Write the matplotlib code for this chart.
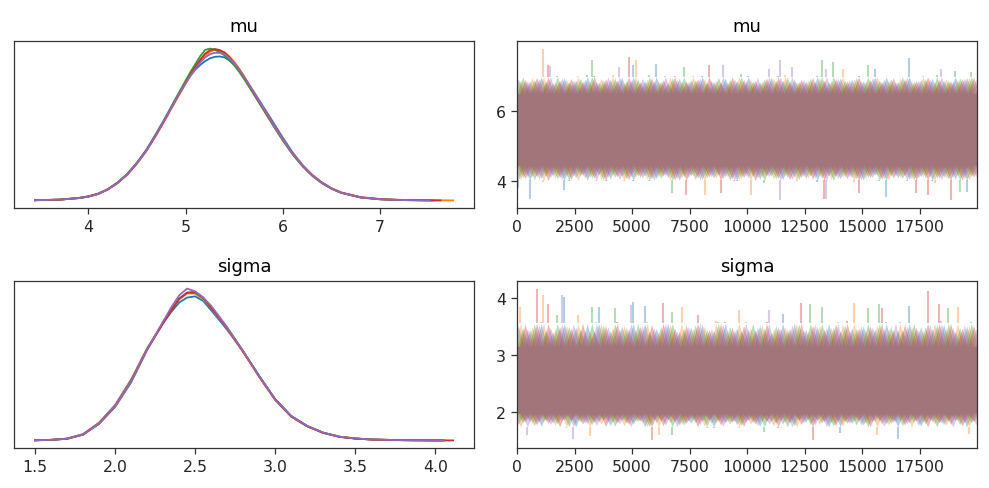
import numpy as np
import matplotlib.pyplot as plt

chain_colors = ["C0", "C1", "C2", "C3", "C4"]

# ---- KDE curves (density) ----
mu_grid = [3.45, 3.7, 3.9, 4.0, 4.1, 4.2, 4.3, 4.4, 4.5, 4.6, 4.7, 4.8, 4.9, 5.0, 5.05, 5.1, 5.15, 5.2, 5.25,
           5.3, 5.35, 5.4, 5.45, 5.5, 5.55, 5.6, 5.7, 5.8, 5.9, 6.0, 6.1, 6.2, 6.3, 6.4, 6.5, 6.6, 6.8, 7.0,
           7.2, 7.5]
mu_kde_end = [7.55, 7.75, 7.52, 7.62, 7.51]
mu_kde = [
    [.002, .005, .014, .023, .037, .061, .096, .142, .203, .275, .362, .452, .545, .632, .668, .700, .725, .745,
     .760, .768, .770, .765, .748, .725, .695, .660, .582, .500, .418, .335, .257, .191, .138, .097, .066, .043,
     .018, .008, .004, .002],
    [.002, .005, .014, .022, .037, .060, .094, .139, .198, .268, .352, .442, .535, .625, .668, .708, .745, .775,
     .795, .805, .803, .792, .770, .740, .705, .665, .580, .494, .408, .328, .252, .189, .137, .097, .066, .043,
     .018, .008, .004, .002],
    [.002, .005, .013, .021, .035, .061, .097, .143, .203, .272, .358, .450, .548, .642, .688, .730, .772, .805,
     .812, .805, .793, .775, .750, .722, .688, .650, .568, .484, .400, .320, .246, .184, .133, .093, .063, .041,
     .016, .007, .003, .001],
    [.002, .005, .014, .022, .036, .060, .095, .140, .200, .270, .355, .445, .540, .630, .675, .715, .753, .785,
     .803, .810, .804, .790, .765, .735, .700, .660, .575, .490, .405, .325, .250, .187, .135, .095, .064, .042,
     .017, .007, .003, .001],
    [.002, .005, .013, .021, .035, .059, .094, .140, .200, .270, .356, .447, .540, .628, .668, .705, .738, .765,
     .782, .790, .789, .782, .760, .733, .699, .662, .578, .492, .406, .326, .251, .188, .136, .095, .064, .042,
     .017, .007, .003, .001],
]

sigma_grid = [1.5, 1.6, 1.7, 1.8, 1.9, 2.0, 2.1, 2.2, 2.3, 2.35, 2.4, 2.45, 2.5, 2.55, 2.6, 2.65, 2.7, 2.8,
              2.9, 3.0, 3.1, 3.2, 3.3, 3.4, 3.5, 3.6, 3.7, 3.8, 4.0]
sigma_kde_end = [4.04, 4.06, 4.05, 4.11, 4.05]
sigma_kde = [
    [.002, .006, .017, .057, .160, .318, .545, .825, 1.050, 1.150, 1.235, 1.280, 1.290, 1.250, 1.165, 1.080,
     .990, .795, .578, .370, .220, .130, .070, .034, .018, .009, .006, .003, .001],
    [.002, .006, .017, .056, .155, .312, .538, .822, 1.058, 1.165, 1.262, 1.318, 1.315, 1.265, 1.185, 1.095,
     1.000, .790, .568, .360, .212, .126, .068, .033, .018, .009, .006, .003, .001],
    [.002, .006, .016, .054, .150, .300, .520, .810, 1.060, 1.170, 1.270, 1.322, 1.322, 1.275, 1.195, 1.105,
     1.012, .800, .575, .366, .217, .128, .069, .034, .018, .009, .006, .003, .001],
    [.002, .006, .015, .052, .150, .305, .530, .815, 1.050, 1.163, 1.268, 1.325, 1.330, 1.280, 1.190, 1.100,
     1.005, .795, .572, .365, .215, .127, .068, .033, .017, .009, .005, .003, .001],
    [.002, .006, .016, .053, .150, .305, .528, .815, 1.065, 1.190, 1.300, 1.360, 1.335, 1.280, 1.205, 1.110,
     1.010, .796, .574, .366, .218, .130, .071, .035, .019, .010, .006, .003, .001],
]

# ---- traces: 20000 draws, summarised per 500-draw window (dense core + per-chain extremes) ----
n_draws = 20000
window = 500
mu_core = (4.45, 6.5)
sigma_core = (1.98, 3.15)
mu_cap = (4.02, 6.98)
sigma_cap = (1.74, 3.56)

mu_hi = [
    [6.92, 6.85, 6.98, 6.80, 6.95, 6.88, 7.02, 6.83, 6.90, 6.97, 7.30, 6.86, 7.35, 6.81, 6.94, 6.89, 6.99, 6.84, 6.93, 6.87,
     7.01, 6.82, 6.96, 6.88, 6.91, 6.85, 7.00, 6.83, 6.94, 6.90, 6.86, 7.20, 6.97, 6.84, 7.50, 6.89, 6.93, 6.87, 7.15, 6.95],
    [6.88, 6.95, 7.78, 6.84, 6.91, 6.99, 6.86, 6.93, 7.03, 6.82, 7.45, 6.90, 6.87, 6.96, 6.85, 7.00, 6.92, 6.88, 6.83, 6.97,
     6.90, 6.86, 6.94, 7.04, 6.84, 6.89, 6.95, 6.87, 7.20, 6.91, 6.85, 6.98, 6.88, 6.93, 6.86, 7.01, 6.84, 6.92, 6.89, 6.96],
    [6.97, 6.90, 6.86, 6.99, 6.84, 6.93, 7.45, 6.88, 6.95, 6.87, 6.91, 7.02, 6.85, 6.94, 7.25, 6.89, 6.83, 6.96, 6.90, 7.05,
     6.86, 6.92, 6.88, 6.97, 6.84, 6.93, 7.45, 7.40, 6.87, 6.95, 7.30, 6.89, 6.91, 6.98, 6.85, 6.92, 7.03, 6.88, 6.94, 7.10],
    [6.90, 6.96, 7.30, 6.87, 6.93, 6.85, 6.99, 6.91, 6.88, 7.55, 6.84, 6.95, 6.89, 7.01, 6.86, 6.92, 7.30, 6.83, 6.97, 6.90,
     6.87, 6.94, 6.99, 6.85, 6.91, 6.96, 6.88, 6.93, 6.86, 7.00, 6.89, 6.84, 6.95, 6.92, 6.87, 6.98, 6.90, 6.86, 6.93, 6.97],
    [6.86, 6.92, 7.29, 6.95, 6.88, 6.91, 6.84, 6.97, 7.25, 6.89, 6.93, 6.86, 7.00, 6.90, 6.85, 6.94, 6.88, 7.30, 6.92, 6.87,
     6.96, 7.20, 7.45, 7.25, 6.90, 6.85, 7.20, 6.93, 6.89, 6.87, 6.95, 6.91, 6.84, 6.98, 6.88, 6.92, 7.20, 6.86, 6.94, 6.90],
]
mu_lo = [
    [3.80, 3.50, 4.08, 4.15, 3.75, 4.10, 4.03, 4.18, 4.06, 4.12, 4.00, 4.14, 4.07, 4.11, 4.02, 4.16, 4.05, 4.09, 4.13, 4.01,
     4.10, 4.06, 4.15, 4.04, 4.12, 4.08, 3.98, 4.14, 4.07, 4.10, 4.03, 4.17, 3.55, 4.09, 4.05, 4.13, 4.01, 4.11, 4.06, 3.70],
    [4.05, 4.12, 3.98, 4.09, 4.14, 4.02, 4.10, 4.06, 4.16, 4.00, 4.11, 4.07, 4.13, 4.03, 4.09, 4.15, 3.60, 4.08, 4.12, 4.04,
     3.60, 4.10, 4.06, 4.14, 4.01, 4.09, 4.13, 4.05, 4.11, 3.97, 4.08, 4.15, 4.03, 4.10, 4.06, 4.12, 3.95, 4.09, 4.14, 4.04],
    [4.10, 4.04, 4.13, 4.07, 4.01, 4.15, 4.09, 4.03, 4.11, 4.06, 4.14, 4.00, 4.08, 3.65, 4.12, 4.05, 4.10, 4.16, 4.02, 4.09,
     4.13, 3.96, 4.07, 4.11, 4.04, 4.14, 4.08, 4.02, 4.12, 4.06, 4.10, 4.01, 4.15, 4.07, 4.03, 4.11, 4.09, 4.05, 3.70, 4.12],
    [4.07, 4.13, 4.02, 4.10, 4.05, 4.16, 4.08, 3.99, 4.12, 4.04, 4.11, 4.07, 4.14, 4.03, 3.60, 4.09, 4.12, 3.65, 4.06, 4.10,
     4.02, 4.15, 4.08, 4.04, 4.11, 4.06, 3.50, 4.13, 4.07, 3.65, 4.10, 4.05, 4.09, 4.14, 3.65, 3.60, 4.08, 3.45, 4.03, 4.11],
    [4.12, 4.06, 4.10, 4.03, 4.14, 4.08, 4.01, 4.11, 4.05, 4.13, 4.09, 4.02, 4.15, 4.07, 4.10, 4.04, 4.12, 4.06, 4.00, 4.14,
     4.08, 4.11, 3.45, 4.05, 4.13, 4.09, 3.50, 4.07, 4.12, 4.03, 4.10, 4.06, 4.14, 4.01, 4.09, 4.12, 4.05, 4.11, 4.07, 4.13],
]
sigma_hi = [
    [3.52, 3.45, 3.58, 3.41, 4.02, 3.49, 3.55, 3.85, 3.43, 3.51, 3.93, 3.87, 3.47, 3.56, 3.42, 3.50, 3.54, 3.44, 3.59, 3.48,
     3.46, 3.53, 3.40, 3.72, 3.57, 3.45, 3.50, 3.55, 3.43, 3.48, 3.52, 3.46, 3.58, 3.44, 3.86, 3.50, 3.47, 3.54, 3.42, 3.51],
    [3.85, 3.50, 4.05, 3.46, 3.53, 3.70, 3.44, 3.57, 3.49, 3.52, 3.45, 3.58, 3.42, 3.55, 3.85, 3.47, 3.51, 3.60, 3.44, 3.80,
     3.48, 3.54, 3.46, 3.50, 3.57, 3.43, 3.52, 3.49, 3.55, 3.92, 3.45, 3.53, 3.47, 3.58, 3.50, 3.44, 3.56, 3.48, 3.85, 3.52],
    [3.48, 3.55, 3.44, 3.70, 3.51, 3.46, 3.85, 3.53, 3.82, 3.49, 3.57, 3.43, 3.50, 3.75, 3.47, 3.54, 3.45, 3.58, 3.50, 3.44,
     3.56, 3.48, 3.52, 3.46, 3.55, 3.90, 3.85, 3.49, 3.53, 3.47, 3.82, 3.90, 3.51, 3.45, 3.57, 3.50, 3.54, 3.82, 3.48, 3.58],
    [3.55, 4.17, 3.90, 3.50, 3.47, 3.56, 3.43, 3.52, 3.58, 3.46, 3.51, 3.54, 3.92, 3.48, 3.53, 3.70, 3.45, 3.57, 3.49, 3.52,
     3.44, 3.58, 3.50, 3.47, 3.92, 3.53, 3.46, 3.55, 3.60, 3.48, 3.51, 3.82, 3.45, 3.54, 3.49, 4.12, 3.90, 3.56, 3.47, 3.53],
    [3.47, 3.53, 3.49, 4.05, 3.55, 3.44, 3.58, 3.50, 3.46, 3.88, 3.52, 3.48, 3.56, 3.43, 3.51, 3.57, 3.47, 3.54, 3.45, 3.59,
     3.50, 3.80, 3.48, 3.53, 3.46, 3.55, 3.49, 3.58, 3.44, 3.52, 3.50, 3.47, 3.56, 3.51, 3.45, 3.54, 3.60, 3.49, 3.53, 3.46],
]
sigma_lo = [
    [1.78, 1.84, 1.75, 1.81, 1.86, 1.73, 1.80, 1.83, 1.76, 1.85, 1.79, 1.74, 1.82, 1.87, 1.77, 1.80, 1.84, 1.72, 1.81, 1.78,
     1.85, 1.75, 1.83, 1.79, 1.76, 1.82, 1.86, 1.74, 1.63, 1.80, 1.77, 1.84, 1.79, 1.52, 1.81, 1.75, 1.83, 1.78, 1.85, 1.73],
    [1.74, 1.80, 1.83, 1.77, 1.72, 1.85, 1.58, 1.79, 1.82, 1.76, 1.84, 1.73, 1.60, 1.81, 1.78, 1.86, 1.75, 1.80, 1.83, 1.71,
     1.79, 1.84, 1.76, 1.82, 1.74, 1.87, 1.78, 1.81, 1.75, 1.83, 1.80, 1.60, 1.77, 1.85, 1.73, 1.82, 1.79, 1.76, 1.84, 1.62],
    [1.81, 1.76, 1.84, 1.79, 1.73, 1.82, 1.78, 1.86, 1.75, 1.80, 1.83, 1.74, 1.85, 1.60, 1.77, 1.81, 1.72, 1.84, 1.79, 1.76,
     1.82, 1.65, 1.80, 1.74, 1.86, 1.78, 1.81, 1.75, 1.83, 1.77, 1.73, 1.85, 1.80, 1.76, 1.82, 1.79, 1.74, 1.84, 1.78, 1.81],
    [1.83, 1.77, 1.80, 1.74, 1.85, 1.79, 1.82, 1.75, 1.81, 1.78, 1.84, 1.50, 1.76, 1.83, 1.80, 1.73, 1.86, 1.77, 1.82, 1.75,
     1.79, 1.84, 1.72, 1.81, 1.78, 1.50, 1.83, 1.76, 1.80, 1.85, 1.74, 1.79, 1.82, 1.77, 1.84, 1.73, 1.81, 1.78, 1.75, 1.83],
    [1.60, 1.82, 1.78, 1.85, 1.52, 1.80, 1.76, 1.83, 1.79, 1.73, 1.81, 1.86, 1.77, 1.74, 1.84, 1.78, 1.80, 1.75, 1.83, 1.82,
     1.76, 1.79, 1.85, 1.73, 1.81, 1.78, 1.74, 1.84, 1.80, 1.77, 1.83, 1.75, 1.82, 1.79, 1.76, 1.86, 1.80, 1.73, 1.81, 1.78],
]

mu_xticks = [4, 5, 6, 7]
sigma_xticks = [1.5, 2.0, 2.5, 3.0, 3.5, 4.0]
draw_ticks = [0, 2500, 5000, 7500, 10000, 12500, 15000, 17500]
mu_trace_yticks = [4, 6]
sigma_trace_yticks = [2, 3, 4]

plt.rcParams["font.family"] = "DejaVu Sans"

fig = plt.figure(figsize=(9.89, 4.89), dpi=100)
w, h = 0.4651, 0.3415
ax_kde_mu = fig.add_axes([0.0142, 0.5726, w, h])
ax_tr_mu = fig.add_axes([0.5228, 0.5726, w, h])
ax_kde_sg = fig.add_axes([0.0142, 0.0818, w, h])
ax_tr_sg = fig.add_axes([0.5228, 0.0818, w, h])


def draw_kde(ax, grid, dens, ends, ticks, title):
    for c, col in enumerate(chain_colors):
        xs = list(grid) + [ends[c]]
        ys = list(dens[c]) + [0.001]
        ax.plot(xs, ys, color=col, lw=1.3)
    ax.set_yticks([])
    ax.set_xticks(ticks)
    ax.set_title(title, fontsize=13, pad=7)


def draw_trace(ax, core, cap, hi, lo, yticks, title):
    n_win = len(hi[0])
    for c, col in enumerate(chain_colors):
        hi_c = np.array(hi[c])
        lo_c = np.array(lo[c])
        centres = np.arange(n_win) * window + 50 + c * 100
        # one polygon per chain: window extremes as needles rising from the dense core
        valleys = np.append(centres - window / 2, centres[-1] + window / 2)
        xs = np.empty(2 * n_win + 1)
        xs[0::2] = valleys
        xs[1::2] = centres
        top = np.full(2 * n_win + 1, core[1])
        bot = np.full(2 * n_win + 1, core[0])
        top[1::2] = np.minimum(hi_c, cap[1])
        bot[1::2] = np.maximum(lo_c, cap[0])
        # make the core run the full width for every chain
        xs = np.concatenate([[-window], xs, [n_draws + window]])
        top = np.concatenate([[core[1]], top, [core[1]]])
        bot = np.concatenate([[core[0]], bot, [core[0]]])
        ax.fill_between(xs, bot, top, color=col, alpha=0.35, lw=0)
        # the rare long excursions beyond the fringe
        up = hi_c > cap[1]
        dn = lo_c < cap[0]
        ax.vlines(centres[up], cap[1], hi_c[up], color=col, alpha=0.35, lw=1.5)
        ax.vlines(centres[dn], lo_c[dn], cap[0], color=col, alpha=0.35, lw=1.5)
    ax.set_xlim(0, n_draws - 1)
    ax.set_xticks(draw_ticks)
    ax.set_yticks(yticks)
    ax.set_title(title, fontsize=13, pad=7)


draw_kde(ax_kde_mu, mu_grid, mu_kde, mu_kde_end, mu_xticks, "mu")
draw_kde(ax_kde_sg, sigma_grid, sigma_kde, sigma_kde_end, sigma_xticks, "sigma")
draw_trace(ax_tr_mu, mu_core, mu_cap, mu_hi, mu_lo, mu_trace_yticks, "mu")
draw_trace(ax_tr_sg, sigma_core, sigma_cap, sigma_hi, sigma_lo, sigma_trace_yticks, "sigma")

for ax in (ax_kde_mu, ax_tr_mu, ax_kde_sg, ax_tr_sg):
    ax.tick_params(labelsize=11.3, length=4.5, width=0.9, color="#333333", labelcolor="#262626")
    for sp in ax.spines.values():
        sp.set_linewidth(0.9)
        sp.set_color("#333333")

fig.savefig("out.png", dpi=100)
